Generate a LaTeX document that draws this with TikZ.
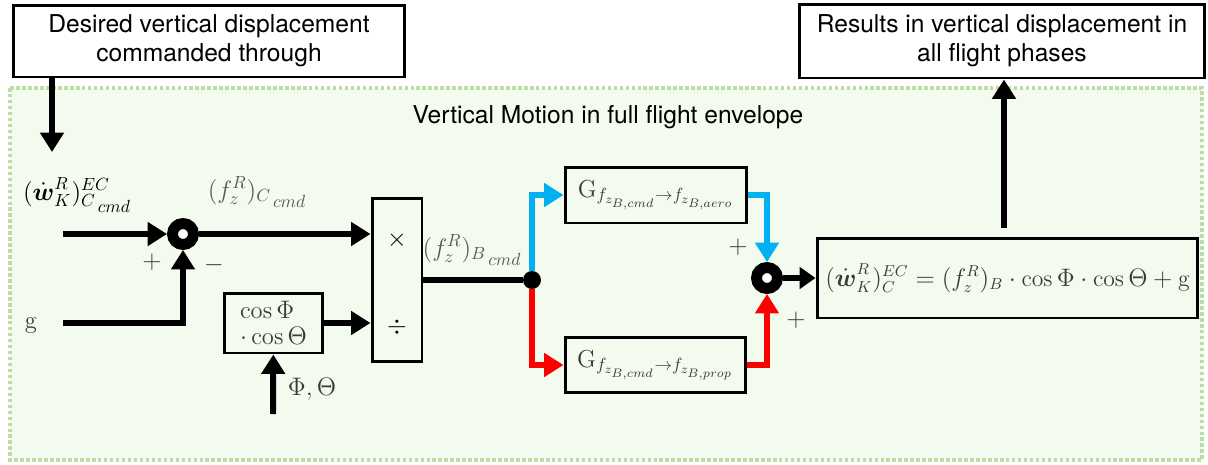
\documentclass[tikz,border=0pt]{standalone}
\usepackage{amsmath,amssymb}
\usepackage{fontspec}
\usepackage{tikz}
\usetikzlibrary{arrows.meta, positioning, calc}

\newfontfamily\helv{TeX Gyre Heros}
\definecolor{envfill}{HTML}{F3FBEE}
\definecolor{envline}{HTML}{BCDCA8}
\definecolor{aeroblue}{HTML}{00B0F0}
\definecolor{propred}{HTML}{FF0000}
\definecolor{sigtext}{HTML}{595959}
\definecolor{eqtext}{HTML}{3A3A3A}
\newcommand{\cmdsub}[1]{#1\,\lower3pt\hbox{$\scriptstyle cmd$}}

\begin{document}
\begin{tikzpicture}[
  x=0.02cm, y=-0.02cm,
  font=\fontsize{14}{16.5}\selectfont,
  >={Triangle[length=11pt,width=13pt]},
  blk/.style={rectangle, draw=black, line width=1.7pt, inner sep=2pt},
  note/.style={blk, fill=white, align=center, font=\helv\fontsize{14}{16.5}\selectfont},
  sumpt/.style={circle, draw=black, line width=6.2pt, fill=white, minimum size=0.42cm, inner sep=0pt},
  dot/.style={circle, fill=black, minimum size=0.36cm, inner sep=0pt},
  flow/.style={->, line width=3.4pt},
  sig/.style={text=sigtext},
  eq/.style={text=eqtext}
]
  \useasboundingbox (0,0) rectangle (1208,464);
  % flight envelope region
  \draw[envline, fill=envfill, line width=1.8pt, dash pattern=on 2pt off 1.4pt]
    (10,88) rectangle (1202,460);
  \node[font=\helv\fontsize{14}{16.5}\selectfont] (title) at (608,117) {Vertical Motion in full flight envelope};

  % outer notes
  \node[note, minimum width=7.82cm, minimum height=1.44cm] (desired) at (209,41)
    {Desired vertical displacement\\commanded through};
  \node[note, minimum width=8.1cm, minimum height=1.48cm] (results) at (1002,41)
    {Results in vertical displacement in\\all flight phases};

  % blocks
  \node[sumpt] (sum1) at (183,234) {};
  \node[blk, minimum width=1cm, minimum height=3.28cm] (mult) at (397,280) {};
  \node at (397,240) {$\times$};
  \node at (397,327) {$\div$};
  \node[blk, eq, minimum width=1.98cm, minimum height=1.2cm, align=left] (cosb) at (273.5,323)
    {$\cos\Phi$\\[-2pt]$\cdot\cos\Theta$};
  \node[dot] (junc) at (532,280) {};
  \node[blk, eq, minimum width=3.64cm, minimum height=1.12cm] (aero) at (656,195)
    {$\mathrm{G}_{f_{z_{B,cmd}}\rightarrow f_{z_{B,aero}}}$};
  \node[blk, eq, minimum width=3.62cm, minimum height=1.1cm] (prop) at (655.5,365)
    {$\mathrm{G}_{f_{z_{B,cmd}}\rightarrow f_{z_{B,prop}}}$};
  \node[sumpt] (sum2) at (767,278) {};
  \node[blk, eq, minimum width=7.62cm, minimum height=1.6cm, font=\fontsize{13.5}{16}\selectfont] (result) at (1007.5,278)
    {$(\dot{\boldsymbol{w}}_K^R)_C^{EC}=(f_z^R)_B\cdot\cos\Phi\cdot\cos\Theta+\mathrm{g}$};

  % free ends
  \coordinate (win) at (63,234);
  \coordinate (gin) at (63,323);
  \coordinate (angin) at (273,414);
  \coordinate (dend) at (52,152);
  \coordinate (rstart) at (1004,228);

  % labels
  \node (wlab) at (77,195) {$(\dot{\boldsymbol{w}}_K^R)_{\cmdsub{C}}^{EC}$};
  \node[eq] (glab) at (31,325) {g};
  \node[sig] (fclab) at (257,192) {$(f_z^R)_{\cmdsub{C}}$};
  \node[sig] (fblab) at (472,250) {$(f_z^R)_{\cmdsub{B}}$};
  \node[eq] (anglab) at (312,389) {$\Phi,\Theta$};
  \node[eq] (p1) at (152,262) {$+$};
  \node[eq] (m1) at (214,265) {$-$};
  \node[eq] (p2) at (738,247) {$+$};
  \node[eq] (p3) at (796,320) {$+$};

  % connectors
  \draw[flow] (desired.south -| dend) -- (dend);
  \draw[flow] (rstart) -- (rstart |- results.south);
  \draw[flow] (win) -- (sum1);
  \draw[flow] (gin) -| (sum1);
  \draw[flow] (sum1) -- (sum1 -| mult.west);
  \draw[flow] (cosb) -- (cosb -| mult.west);
  \draw[flow] (angin) -- (cosb);
  \draw[line width=3.4pt] (mult) -- (junc);
  \draw[flow, aeroblue] (junc) |- (aero);
  \draw[flow, propred] (junc) |- (prop);
  \draw[flow, aeroblue] (aero) -| (sum2);
  \draw[flow, propred] (prop) -| (sum2);
  \draw[->, line width=3.4pt, >={Triangle[length=9pt,width=12pt]}] (sum2) -- (result);
\end{tikzpicture}
\end{document}
